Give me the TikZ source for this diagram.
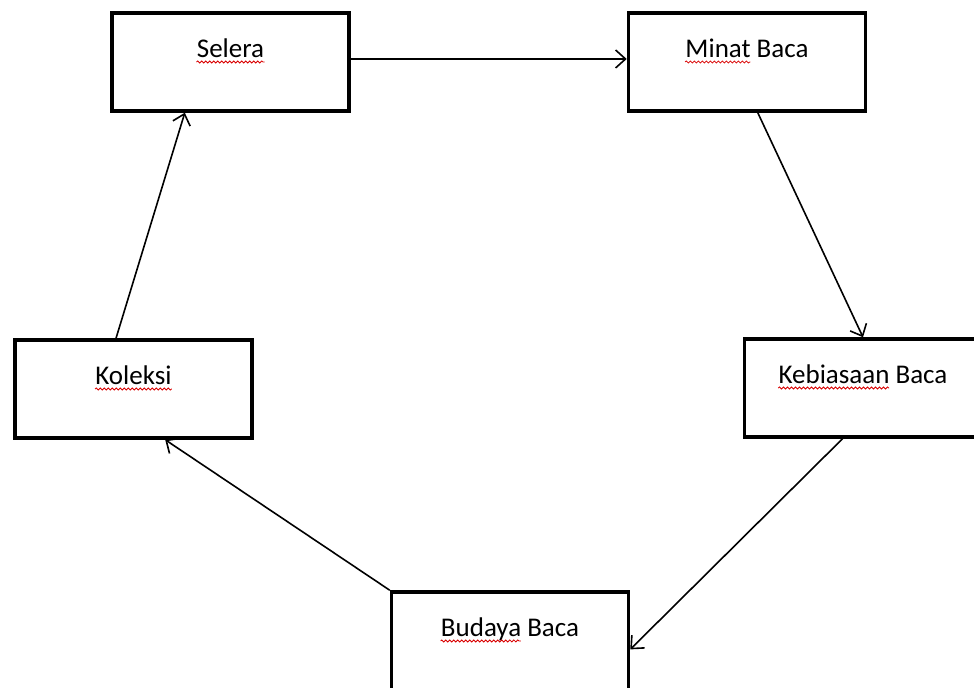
\documentclass[tikz,border=0pt]{standalone}
\usepackage{fontspec}
\setmainfont{Carlito}
\usetikzlibrary{arrows.meta,calc,decorations.pathmorphing}

\begin{document}
\fontsize{13.5}{16}\selectfont
\begin{tikzpicture}[x=0.5pt,y=-0.5pt]
	\tikzstyle{kotak}=[draw,line width=1.75pt,minimum width=118.5pt,minimum height=49pt,inner sep=0pt]
	\tikzstyle{tulisan}=[inner sep=0pt,anchor=base]
	\tikzstyle{panah}=[line width=0.8pt,-{Straight Barb[length=5pt,width=9pt]}]
	\tikzstyle{gelombang}=[red!85!black,line width=0.4pt,decorate,decoration={snake,segment length=2pt,amplitude=0.5pt}]
	
	\useasboundingbox (0,0) rectangle (974,688);
	
	\node (sel) [kotak] at (230.5,62) {};					% kiri atas
	\node (min) [kotak] at (747,62) {};						% kanan atas
	\node (keb) [kotak] at (863,388) {};					% kanan
	\node (bud) [kotak] at (510,641) {};					% bawah
	\node (kol) [kotak] at (133.5,389) {};					% kiri
	
	\node (selT) [tulisan] at ([yshift=2pt]sel.center) {Selera};
	\node (minT) [tulisan] at ([yshift=2pt]min.center) {Minat Baca};
	\node (kebT) [tulisan] at ([yshift=2pt]keb.center) {Kebiasaan Baca};
	\node (budT) [tulisan] at ([yshift=2pt]bud.center) {Budaya Baca};
	\node (kolT) [tulisan] at ([yshift=2pt]kol.center) {Koleksi};
	
	% garis ejaan merah
	\draw [gelombang] ([yshift=-2pt]selT.base west) -- ([yshift=-2pt]selT.base east);
	\draw [gelombang] ([yshift=-2pt]kolT.base west) -- ([yshift=-2pt]kolT.base east);
	\draw [gelombang] let \n1={width("Minat")} in ([yshift=-2pt]minT.base west) -- ++(\n1 pt,0);
	\draw [gelombang] let \n1={width("Kebiasaan")} in ([yshift=-2pt]kebT.base west) -- ++(\n1 pt,0);
	\draw [gelombang] let \n1={width("Budaya")} in ([yshift=-2pt]budT.base west) -- ++(\n1 pt,0);
	
	\draw [panah] ([yshift=1.5pt]sel.east) -- ([yshift=1.5pt]min.west);
	\draw [panah] (min.-78.5) -- (keb.north);
	\draw [panah] (keb.-112) -- (bud.-4);
	\draw [panah] (bud.north west) -- (kol.-58.4);
	\draw [panah] (kol.109.7) -- (sel.-132.9);
\end{tikzpicture}
\end{document}
